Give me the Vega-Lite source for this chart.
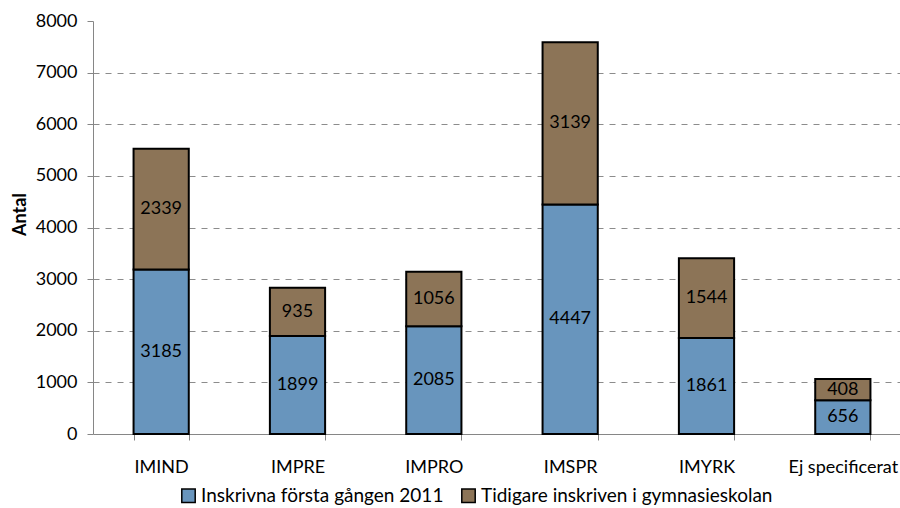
{
  "$schema": "https://vega.github.io/schema/vega-lite/v6.json",
  "autosize": "none",
  "width": 818,
  "height": 413,
  "padding": {"left": 93, "top": 21, "right": 0, "bottom": 74},
  "background": "white",
  "data": {"values": [
    {"kategori": "IMIND", "serie": "Inskrivna första gången 2011", "antal": 3185},
    {"kategori": "IMIND", "serie": "Tidigare inskriven i gymnasieskolan", "antal": 2339},
    {"kategori": "IMPRE", "serie": "Inskrivna första gången 2011", "antal": 1899},
    {"kategori": "IMPRE", "serie": "Tidigare inskriven i gymnasieskolan", "antal": 935},
    {"kategori": "IMPRO", "serie": "Inskrivna första gången 2011", "antal": 2085},
    {"kategori": "IMPRO", "serie": "Tidigare inskriven i gymnasieskolan", "antal": 1056},
    {"kategori": "IMSPR", "serie": "Inskrivna första gången 2011", "antal": 4447},
    {"kategori": "IMSPR", "serie": "Tidigare inskriven i gymnasieskolan", "antal": 3139},
    {"kategori": "IMYRK", "serie": "Inskrivna första gången 2011", "antal": 1861},
    {"kategori": "IMYRK", "serie": "Tidigare inskriven i gymnasieskolan", "antal": 1544},
    {"kategori": "Ej specificerat", "serie": "Inskrivna första gången 2011", "antal": 656},
    {"kategori": "Ej specificerat", "serie": "Tidigare inskriven i gymnasieskolan", "antal": 408}
  ]},
  "encoding": {
    "x": {
      "field": "kategori", "type": "nominal", "sort": null,
      "scale": {"paddingInner": 0.595, "paddingOuter": 0.2975},
      "axis": {
        "title": null, "labelAngle": 0, "tickBand": "extent",
        "labelFont": "Lato", "labelFontSize": 18, "labelColor": "black",
        "labelPadding": 18, "tickSize": 6, "tickColor": "#868686", "domainColor": "#868686",
        "labelOverlap": false, "labelBound": false, "labelLimit": 0
      }
    },
    "y": {
      "field": "antal", "type": "quantitative", "stack": "zero",
      "scale": {"domain": [0, 8000], "nice": false},
      "axis": {
        "title": "Antal", "titleFont": "Lato", "titleFontSize": 18, "titleFontWeight": "bold", "titleColor": "black",
        "titlePadding": 6, "titleY": 193,
        "values": [0, 1000, 2000, 3000, 4000, 5000, 6000, 7000, 8000], "format": "d",
        "labelFont": "Lato", "labelFontSize": 18, "labelColor": "black", "labelPadding": 10,
        "tickSize": 6, "tickColor": "#868686", "domainColor": "#868686",
        "grid": true, "gridColor": "#8c8c8c", "gridDash": [6, 6], "gridWidth": 1,
        "gridOpacity": {"condition": {"test": "datum.value == 8000 || datum.value == 0", "value": 0}, "value": 1}
      }
    },
    "order": {"field": "serie", "sort": "ascending"}
  },
  "layer": [
    {
      "mark": {"type": "bar", "stroke": "black", "strokeWidth": 2},
      "encoding": {
        "color": {
          "field": "serie", "type": "nominal",
          "scale": {"range": ["#6895bd", "#8c7457"]},
          "legend": {
            "title": null, "orient": "none", "direction": "horizontal",
            "legendX": 86, "legendY": 465, "labelLimit": 0,
            "labelFont": "Lato", "labelFontSize": 19, "labelColor": "black",
            "symbolType": "square", "symbolSize": 180, "symbolStrokeColor": "black",
            "symbolStrokeWidth": 1.5, "symbolOpacity": 1, "labelOffset": 3, "columnPadding": 14
          }
        }
      }
    },
    {
      "mark": {"type": "text", "font": "Lato", "fontSize": 18, "color": "black", "baseline": "middle"},
      "encoding": {
        "y": {"field": "antal", "type": "quantitative", "stack": "zero", "bandPosition": 0.5},
        "text": {"field": "antal", "type": "quantitative"}
      }
    }
  ],
  "config": {"view": {"stroke": null}}
}
